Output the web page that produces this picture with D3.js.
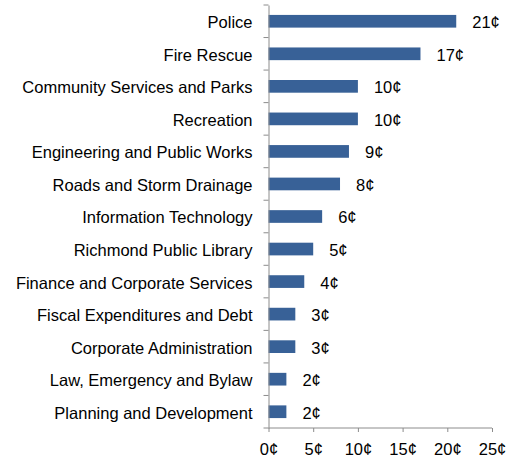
<!DOCTYPE html>
<html>
<head>
<meta charset="utf-8">
<script src="https://cdn.jsdelivr.net/npm/d3@7"></script>
<style>
  html, body { margin: 0; padding: 0; background: #fff; }
  svg { display: block; font-family: "Liberation Sans", Arial, sans-serif; }
</style>
</head>
<body>
<svg id="chart" width="506" height="461"></svg>
<script>
// Cents of each tax dollar, by city service
const categories = [
  "Police",
  "Fire Rescue",
  "Community Services and Parks",
  "Recreation",
  "Engineering and Public Works",
  "Roads and Storm Drainage",
  "Information Technology",
  "Richmond Public Library",
  "Finance and Corporate Services",
  "Fiscal Expenditures and Debt",
  "Corporate Administration",
  "Law, Emergency and Bylaw",
  "Planning and Development"
];
const values = [21, 17, 10, 10, 9, 8, 6, 5, 4, 3, 3, 2, 2];
const xTicks = [0, 5, 10, 15, 20, 25];

const svg = d3.select("#chart");
const margin = { left: 268.5, right: 14, top: 5, bottom: 33 };
const W = 506, H = 461;
const fontSize = 16.5;

const x = d3.scaleLinear().domain([0, 25]).range([margin.left, W - margin.right]);
const y = d3.scaleBand().domain(categories).range([margin.top, H - margin.bottom]).paddingInner(0.61).paddingOuter(0.305);

const axisColor = "#8c8c8c";

// Bars
svg.append("g").selectAll("rect").data(values).join("rect")
  .attr("x", x(0))
  .attr("y", (d, i) => y(categories[i]))
  .attr("width", d => x(d) - x(0))
  .attr("height", y.bandwidth())
  .attr("fill", "#386197");

// Value labels
svg.append("g").selectAll("text").data(values).join("text")
  .attr("x", d => x(d) + 16)
  .attr("y", (d, i) => y(categories[i]) + y.bandwidth() / 2)
  .attr("dy", "0.42em")
  .attr("font-size", fontSize)
  .attr("fill", "#000")
  .text(d => d + "¢");

// Category axis
const yAxis = d3.axisLeft(y).tickSize(0).tickPadding(16);
const gy = svg.append("g").attr("transform", `translate(${x(0)},0)`).call(yAxis);
gy.attr("font-family", null).attr("font-size", null);
gy.select(".domain").attr("stroke", axisColor);
gy.selectAll("text").attr("font-size", fontSize).attr("fill", "#000").attr("dy", "0.42em");
// Ticks between categories
const bounds = d3.range(categories.length + 1).map(i => margin.top + i * y.step());
svg.append("g").selectAll("line").data(bounds).join("line")
  .attr("x1", x(0) - 5).attr("x2", x(0))
  .attr("y1", d => d).attr("y2", d => d)
  .attr("stroke", axisColor);

// Value axis
const xAxis = d3.axisBottom(x).tickValues(xTicks).tickSize(4).tickPadding(11).tickFormat(d => d + "¢");
const gx = svg.append("g").attr("transform", `translate(0,${H - margin.bottom})`).call(xAxis);
gx.attr("font-family", null).attr("font-size", null);
gx.select(".domain").attr("stroke", axisColor).attr("d", `M${x(0)},0H${x(25)}`);
gx.selectAll(".tick line").attr("stroke", axisColor);
gx.selectAll("text").attr("font-size", fontSize).attr("fill", "#000");
</script>
</body>
</html>
